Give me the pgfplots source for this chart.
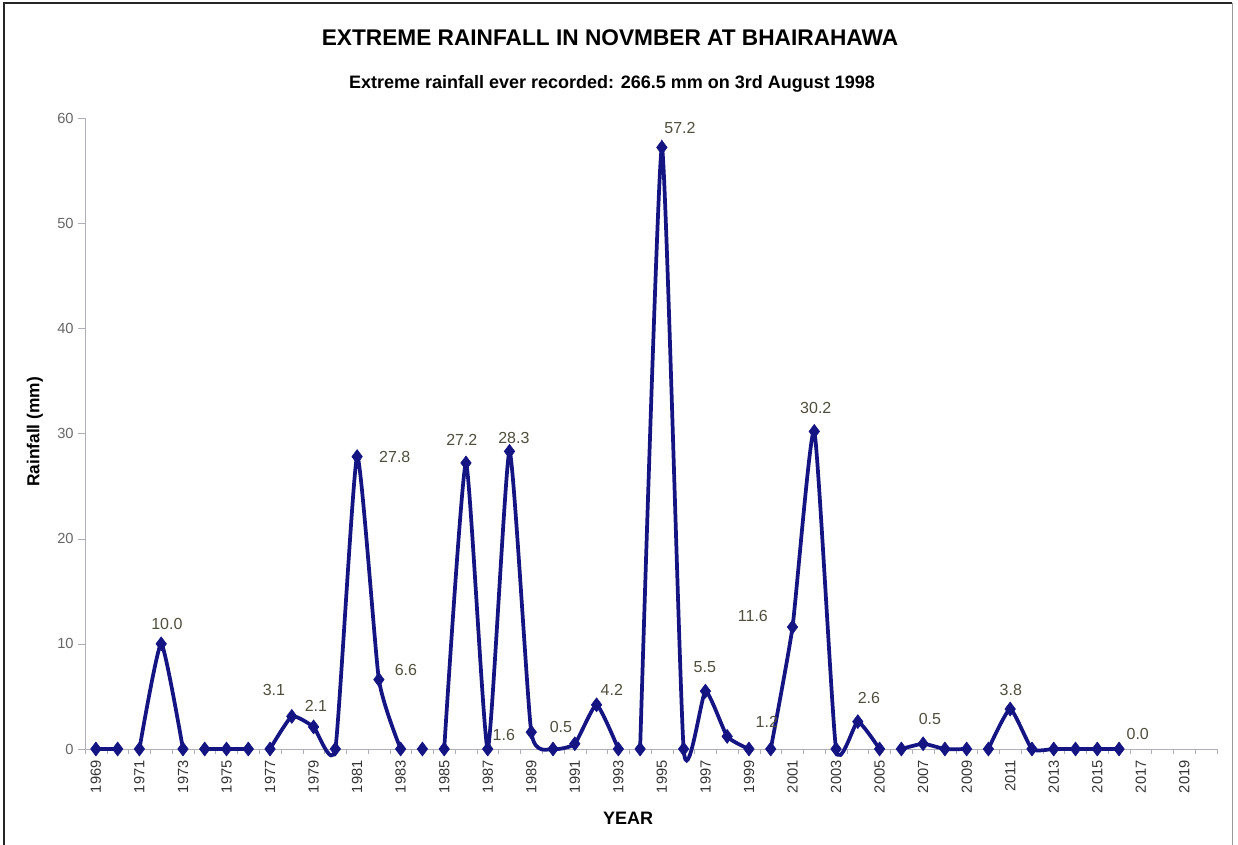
\documentclass[border=0pt]{standalone}
\usepackage{pgfplots}
\pgfplotsset{compat=1.18}
\usepackage{pgfplotstable}
\usepackage{fontspec}
\setmainfont{Liberation Sans}
\definecolor{navy}{RGB}{20,20,130}
\definecolor{axgray}{RGB}{175,175,185}
\definecolor{lblgray}{RGB}{80,78,60}
\pgfplotstableread{
x y
1969 0
1970 0
1970.5 nan
1971 0
1972 10.0
1973 0
1973.5 nan
1974 0
1975 0
1976 0
1976.5 nan
1977 0
1978 3.1
1979 2.1
1980 0
1981 27.8
1982 6.6
1983 0
1983.5 nan
1984 0
1984.5 nan
1985 0
1986 27.2
1987 0
1988 28.3
1989 1.6
1990 0
1991 0.5
1992 4.2
1993 0
1993.5 nan
1994 0
1995 57.2
1996 0
1997 5.5
1998 1.2
1999 0
1999.5 nan
2000 0
2001 11.6
2002 30.2
2003 0
2004 2.6
2005 0
2005.5 nan
2006 0
2007 0.5
2008 0
2009 0
2009.5 nan
2010 0
2011 3.8
2012 0
2013 0
2014 0
2015 0
2016 0
}\rain
\pgfplotstableread{
x y lbl
1972.26 11.89 10.0
1977.18 5.61 3.1
1979.11 4.09 2.1
1982.73 27.76 27.8
1983.24 7.51 6.6
1985.81 29.38 27.2
1988.20 29.57 28.3
1987.74 1.33 1.6
1990.36 2.09 0.5
1992.70 5.61 4.2
1995.83 59.05 57.2
1996.97 7.80 5.5
1999.82 2.57 1.2
1999.18 12.65 11.6
2002.07 32.42 30.2
2004.51 4.85 2.6
2007.31 2.85 0.5
2011.03 5.61 3.8
2016.86 1.43 0.0
}\labels
\begin{document}
\begin{tikzpicture}[x=0.75pt,y=0.75pt]
\path[use as bounding box] (-85,-95) rectangle (1153,749);
\draw[black!85, line width=1.5pt] (-81,-100) -- (-81,746) -- (1147,746);
\draw[black!40, line width=0.6pt] (1147,746) -- (1147,-100);
\begin{axis}[
  at={(0,0)}, anchor=origin,
  scale only axis, width=849pt, height=473.25pt,
  xmin=1968.5, xmax=2020.5, ymin=0, ymax=60,
  clip=false,
  axis x line*=bottom, axis y line*=left,
  axis line style={axgray, line width=0.6pt},
  ytick={0,10,...,60},
  xtick={1969,1971,...,2019},
  minor xtick={1968.5,1969.5,...,2020.5},
  major x tick style={draw=none},
  minor x tick style={axgray},
  major y tick style={axgray},
  tick align=outside,
  major tick length=5pt, minor tick length=4pt,
  x tick label style={rotate=90, anchor=east, font=\fontsize{11}{13}\selectfont, black!80},
  y tick label style={font=\fontsize{11}{13}\selectfont, black!60},
  /pgf/number format/assume math mode=true,
  /pgf/number format/1000 sep={},
]
\addplot[navy, line width=2.8pt, smooth, tension=0.3, unbounded coords=jump,
  mark=diamond*, mark size=5.2pt, mark options={solid, fill=navy, line width=0.5pt}] table[x=x,y=y] {\rain};
\addplot[draw=none, mark=none, nodes near coords, point meta=explicit symbolic,
  every node near coord/.append style={anchor=center, font=\fontsize{12}{14}\selectfont, text=lblgray}]
  table[x=x,y=y,meta=lbl] {\labels};
\end{axis}
\node[font=\fontsize{17}{20}\selectfont\bfseries] at (525,711) {EXTREME RAINFALL IN NOVMBER AT BHAIRAHAWA};
\node[font=\fontsize{13.5}{16}\selectfont\bfseries] at (527,665) {Extreme rainfall ever recorded: 266.5 mm on 3rd August 1998};
\node[font=\fontsize{13}{15}\selectfont\bfseries, rotate=90] at (-50,317) {Rainfall (mm)};
\node[font=\fontsize{13.5}{16}\selectfont\bfseries] at (543,-69) {YEAR};
\end{tikzpicture}
\end{document}
